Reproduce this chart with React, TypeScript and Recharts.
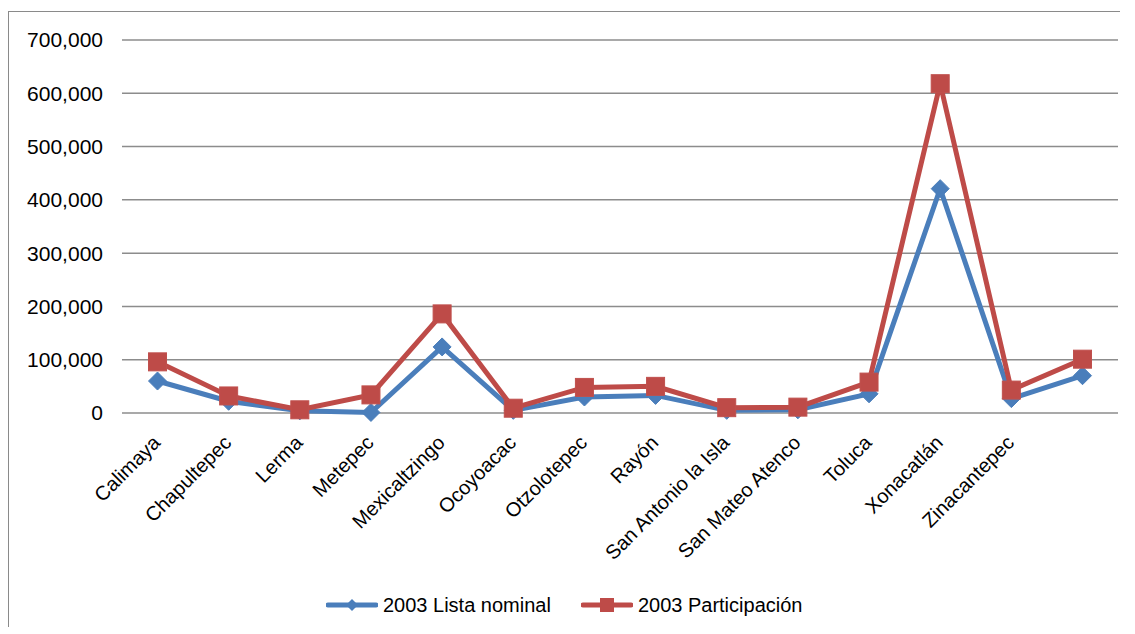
import { CartesianGrid, Legend, Line, LineChart, XAxis, YAxis } from 'recharts';

const municipios = [
  'Calimaya',
  'Chapultepec',
  'Lerma',
  'Metepec',
  'Mexicaltzingo',
  'Ocoyoacac',
  'Otzolotepec',
  'Rayón',
  'San Antonio la Isla',
  'San Mateo Atenco',
  'Toluca',
  'Xonacatlán',
  'Zinacantepec',
  '',
];
const listaNominal = [60000, 22000, 4000, 1000, 124000, 5000, 30000, 33000, 5000, 6000, 36000, 421000, 27000, 70000];
const participacion = [96000, 32000, 6000, 34000, 186000, 9000, 48000, 50000, 10000, 11000, 58000, 618000, 43000, 101000];
const yTicks = [0, 100000, 200000, 300000, 400000, 500000, 600000, 700000];

const BLUE = '#4a7ebb';
const RED = '#be4b48';
const FONT = '"Liberation Sans", Arial, sans-serif';

const data = municipios.map((m, i) => ({
  name: m,
  lista: listaNominal[i],
  part: participacion[i],
}));

function Diamond({ cx, cy }: any) {
  if (cx == null || cy == null) return null;
  const r = 9;
  return <polygon points={`${cx},${cy - r} ${cx + r},${cy} ${cx},${cy + r} ${cx - r},${cy}`} fill={BLUE} stroke={BLUE} />;
}

function Square({ cx, cy }: any) {
  if (cx == null || cy == null) return null;
  const s = 18;
  return <rect x={cx - s / 2} y={cy - s / 2} width={s} height={s} fill={RED} stroke="#c0504d" strokeWidth={1} />;
}

function XTick({ x, y, payload }: any) {
  return (
    <g transform={`translate(${x - 1},${y + 26})`}>
      <text x={0} y={0} dy="0.35em" transform="rotate(-45)" textAnchor="end" fontSize={20} fill="#000" fontFamily={FONT}>
        {payload.value}
      </text>
    </g>
  );
}

function LegendBox() {
  const item = (color: string, label: string, square: boolean) => (
    <div style={{ display: 'flex', alignItems: 'center', marginRight: 30 }}>
      <svg width={52} height={20} style={{ marginRight: 5 }}>
        <line x1={2} y1={10} x2={50} y2={10} stroke={color} strokeWidth={5} strokeLinecap="round" />
        {square ? <rect x={19} y={3} width={14} height={14} fill={color} /> : <polygon points="26,4 32,10 26,16 20,10" fill={color} />}
      </svg>
      <span style={{ fontSize: 20, color: '#000', fontFamily: FONT }}>{label}</span>
    </div>
  );
  return (
    <div style={{ display: 'flex', paddingLeft: 317, paddingTop: 4, height: 42, alignItems: 'center' }}>
      {item(BLUE, '2003 Lista nominal', false)}
      {item(RED, '2003 Participación', true)}
    </div>
  );
}

export default function App() {
  return (
    <div
      style={{
        marginTop: 3,
        width: 1111,
        height: 615,
        borderLeft: '1px solid #8a8a8a',
        borderTop: '1px solid #8a8a8a',
        background: '#fff',
      }}
    >
      <LineChart width={1110} height={614} data={data} margin={{ top: 28, right: 1, left: 23, bottom: 0 }}>
        <CartesianGrid vertical={false} stroke="#8c8c8c" strokeWidth={1.5} />
        <XAxis
          dataKey="name"
          interval={0}
          axisLine={false}
          tickLine={false}
          tickSize={0}
          tickMargin={0}
          height={167}
          padding={{ left: 35.5, right: 35.5 }}
          tick={<XTick />}
        />
        <YAxis
          domain={[0, 700000]}
          ticks={yTicks}
          interval={0}
          width={90}
          axisLine={false}
          tickLine={false}
          tickSize={0}
          tickMargin={19}
          tickFormatter={(v: number) => v.toLocaleString('en-US')}
          tick={{ fill: '#000', fontSize: 21, fontFamily: FONT }}
        />
        <Legend
          verticalAlign="bottom"
          height={46}
          wrapperStyle={{ left: 0, width: 1110 }}
          content={() => <LegendBox />}
        />
        <Line
          dataKey="lista"
          name="2003 Lista nominal"
          stroke={BLUE}
          strokeWidth={5}
          dot={<Diamond />}
          activeDot={false}
          isAnimationActive={false}
        />
        <Line
          dataKey="part"
          name="2003 Participación"
          stroke={RED}
          strokeWidth={5}
          dot={<Square />}
          activeDot={false}
          isAnimationActive={false}
        />
      </LineChart>
    </div>
  );
}
